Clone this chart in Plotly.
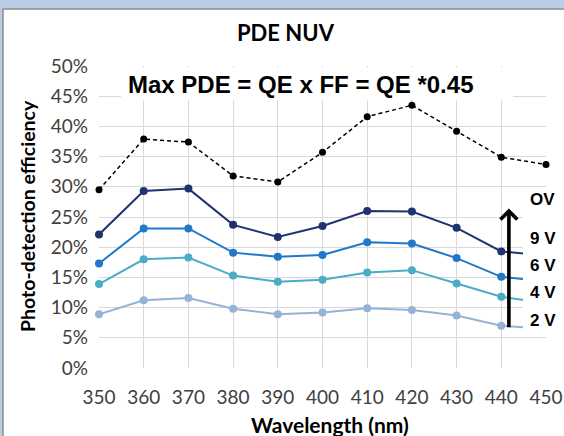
import plotly.graph_objects as go

wavelength = [350, 360, 370, 380, 390, 400, 410, 420, 430, 440, 450]
max_pde = [29.5, 37.9, 37.4, 31.8, 30.8, 35.7, 41.6, 43.5, 39.2, 34.9, 33.7]
pde_9v = [22.1, 29.3, 29.7, 23.7, 21.7, 23.5, 26.0, 25.9, 23.2, 19.3, 18.6]
pde_6v = [17.3, 23.1, 23.1, 19.1, 18.4, 18.7, 20.8, 20.6, 18.2, 15.1, 14.3]
pde_4v = [13.9, 18.0, 18.3, 15.3, 14.3, 14.6, 15.8, 16.2, 14.0, 11.8, 10.7]
pde_2v = [8.9, 11.2, 11.6, 9.8, 8.9, 9.2, 9.9, 9.6, 8.7, 7.0, 6.5]
y_ticks = [0, 5, 10, 15, 20, 25, 30, 35, 40, 45, 50]
y_tick_labels = [f"{v}%" for v in y_ticks]
ov_labels = ["OV", "9 V", "6 V", "4 V", "2 V"]

W, H = 564, 436
L, R, T, B = 99, 18, 66, 68
pw, ph = W - L - R, H - T - B


def px(x):
    return (x - L) / pw


def py(y):
    return (H - B - y) / ph


fig = go.Figure()

series = [
    (pde_2v, "#95b3d7"),
    (pde_4v, "#4bacc6"),
    (pde_6v, "#1f78c8"),
    (pde_9v, "#1f3370"),
]
for vals, col in series:
    fig.add_trace(go.Scatter(
        x=wavelength, y=vals, mode="lines+markers",
        line=dict(color=col, width=2),
        marker=dict(color=col, size=8),
        showlegend=False, cliponaxis=False))

fig.add_trace(go.Scatter(
    x=wavelength, y=max_pde, mode="lines+markers",
    line=dict(color="black", width=1.5, dash="4px,3px"),
    marker=dict(color="black", size=7),
    showlegend=False, cliponaxis=False))

shapes = [
    # white panel with gray border (top/left)
    dict(type="rect", xref="paper", yref="paper",
         x0=px(3), x1=px(600), y0=py(9), y1=py(460),
         fillcolor="white", line=dict(color="#8c8c8c", width=1.5),
         layer="below"),
    # white box behind the formula text
    dict(type="rect", xref="paper", yref="paper",
         x0=px(121), x1=px(513), y0=py(67.5), y1=py(100),
         fillcolor="white", line=dict(width=0), layer="above"),
    # white box behind OV labels
    dict(type="rect", xref="paper", yref="paper",
         x0=px(523), x1=px(563), y0=py(188), y1=py(334),
         fillcolor="white", line=dict(width=0), layer="above"),
]

calibri = "Lato, Carlito, sans-serif"
arial = "Liberation Sans, Arial, sans-serif"


def label(text, x, y, font, size, **kw):
    d = dict(text=text, xref="paper", yref="paper", x=px(x), y=py(y),
             xanchor="center", yanchor="middle", showarrow=False,
             font=dict(family=font, size=size, color="black"))
    d.update(kw)
    return d


annotations = [
    label("<b>PDE NUV</b>", 286, 32, calibri, 22),
    label("<b>Max PDE = QE x FF = QE *0.45</b>", 300, 84, arial, 24),
    label("<b>Wavelength (nm)</b>", 330, 424, calibri, 21),
    label("<b>Photo-detection efficiency</b>", 27, 216, calibri, 19.5,
          textangle=-90),
    # arrow
    dict(x=441.7, y=26.4, ax=441.7, ay=6.5, xref="x", yref="y",
         axref="x", ayref="y", text="", showarrow=True,
         arrowhead=4, arrowsize=0.9, arrowwidth=3.6, arrowcolor="black"),
]
label_y = [199, 238, 265, 292, 320]
for lab, yy in zip(ov_labels, label_y):
    annotations.append(label(f"<b>{lab}</b>", 528, yy, arial, 17,
                             xanchor="left"))

fig.update_layout(
    width=W, height=H,
    margin=dict(l=L, r=R, t=T, b=B, autoexpand=False),
    paper_bgcolor="#b9cde5",
    plot_bgcolor="white",
    shapes=shapes,
    annotations=annotations,
    font=dict(family=calibri, size=16, color="#404040"),
)
fig.update_xaxes(
    range=[350, 450], tickvals=wavelength, ticks="",
    showgrid=True, gridcolor="#d9d9d9", gridwidth=1,
    zeroline=False, showline=False, ticklabelstandoff=16,
    tickfont=dict(size=19, color="#404040"), automargin=False,
)
fig.update_yaxes(
    range=[0, 50], tickvals=y_ticks, ticktext=y_tick_labels, ticks="",
    showgrid=True, gridcolor="#d9d9d9", gridwidth=1,
    zeroline=False, showline=False, ticklabelstandoff=10,
    tickfont=dict(size=19, color="#404040"), automargin=False,
)

fig.write_html(
    "out.html", config={"displayModeBar": False},
    post_script=("document.body.style.margin='0px';"
                 "document.body.style.overflow='hidden';"
                 "document.documentElement.style.overflow='hidden';"))
